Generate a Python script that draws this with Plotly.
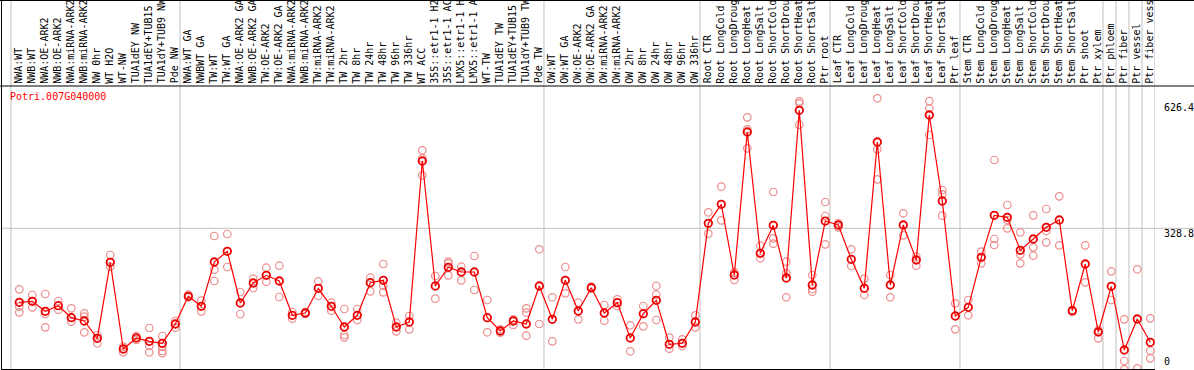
import plotly.graph_objects as go

gene = "Potri.007G040000"

labels = [
    "NWA:WT", "NWB:WT", "NWA:OE-ARK2", "NWB:OE-ARK2", "NWA:miRNA-ARK2", "NWB:miRNA-ARK2",
    "NW 0hr", "WT H2O", "WT-NW", "TUA1dEY NW", "TUA1dEY+TUB15", "TUA1dY+TUB9 NW", "Pde NW",
    "NWA:WT GA", "NWBWT GA", "TW:WT", "TW:WT GA", "NWA:OE-ARK2 GA", "NWB:OE-ARK2 GA",
    "TW:OE-ARK2", "TW:OE-ARK2 GA", "NWA:miRNA-ARK2", "NWB:miRNA-ARK2", "TW:miRNA-ARK2",
    "TW:miRNA-ARK2", "TW 2hr", "TW 8hr", "TW 24hr", "TW 48hr", "TW 96hr", "TW 336hr",
    "WT ACC", "35S::etr1-1 H2O", "35S::etr1-1 ACC", "LMX5::etr1-1 H2O", "LMX5::etr1-1 ACC",
    "WT-TW", "TUA1dEY TW", "TUA1dEY+TUB15 TW", "TUA1dY+TUB9 TW", "Pde TW",
    "OW:WT", "OW:WT GA", "OW:OE-ARK2", "OW:OE-ARK2 GA", "OW:miRNA-ARK2", "OW:miRNA-ARK2",
    "OW 2hr", "OW 8hr", "OW 24hr", "OW 48hr", "OW 96hr", "OW 336hr",
    "Root CTR", "Root LongCold", "Root LongDrought", "Root LongHeat", "Root LongSalt",
    "Root ShortCold", "Root ShortDrought", "Root ShortHeat", "Root ShortSalt", "Ptr root",
    "Leaf CTR", "Leaf LongCold", "Leaf LongDrought", "Leaf LongHeat", "Leaf LongSalt",
    "Leaf ShortCold", "Leaf ShortDrought", "Leaf ShortHeat", "Leaf ShortSalt", "Ptr leaf",
    "Stem CTR", "Stem LongCold", "Stem LongDrought", "Stem LongHeat", "Stem LongSalt",
    "Stem ShortCold", "Stem ShortDrought", "Stem ShortHeat", "Stem ShortSalt", "Ptr shoot",
    "Ptr xylem", "Ptr phloem", "Ptr fiber", "Ptr vessel", "Ptr fiber vessel",
]

group_sizes = [13, 28, 12, 10, 10, 11, 1, 1, 1, 1]

means = [
    159.3, 161.6, 138.7, 151.5, 124.1, 116.5, 76.9, 250.9, 52.4, 77.6, 70.0, 65.5, 109.7,
    173.1, 150.2, 251.6, 276.1, 157.7, 203.5, 221.1, 208.1, 129.6, 134.8, 191.4, 150.2,
    102.8, 129.6, 204.2, 209.7, 102.8, 114.2, 482.8, 196.6, 239.5, 228.7, 228.7, 124.1,
    93.6, 116.5, 109.7, 196.6,
    120.4, 209.7, 139.4, 192.8, 134.8, 158.4, 77.6, 133.2, 163.9, 63.2, 65.5, 114.2,
    340.2, 383.7, 221.8, 549.2, 271.5, 335.6, 215.0, 598.9, 198.9, 345.4,
    336.3, 257.8, 191.4, 526.3, 198.9, 336.3, 256.2, 588.1, 391.2, 128.0,
    147.9, 262.3, 358.5, 353.9, 278.4, 304.2, 331.0, 347.7, 140.1, 247.0, 91.3,
    196.0, 50.1, 121.1, 67.8,
]

replicates = [
    [189.1, 149.3, 136.4], [176.0, 147.9, 162.3], [178.3, 132.5, 102.1], [162.3, 142.4],
    [145.6, 114.9, 124.1], [134.1, 126.4, 90.7], [84.5, 65.5], [267.6, 240.8, 251.6],
    [57.7, 44.9], [82.2, 73.0], [100.5, 59.3, 44.9], [82.2, 57.7, 42.6, 47.8], [116.5, 101.2],
    [176.7, 170.8], [163.0, 138.7], [311.1, 234.0, 208.1], [315.7, 240.1], [182.9, 132.5],
    [213.4, 192.1], [238.5, 206.5], [243.1, 171.5], [137.1, 121.8], [137.1, 132.5],
    [207.4, 173.8], [158.4, 140.1], [144.0, 84.5, 79.2], [144.0, 118.8], [215.6, 184.5],
    [247.0, 197.3, 182.2], [112.6, 92.9], [128.0, 97.5], [507.3, 489.0, 450.1],
    [219.5, 167.6], [252.3, 248.6, 221.1], [240.8, 209.7], [265.3, 187.5], [164.6, 90.7],
    [97.5, 89.7], [120.4, 107.4], [145.6, 135.5, 82.9], [280.7, 109.7],
    [170.8, 70.0], [240.1, 179.9], [158.4, 120.4], [195.0, 190.5], [153.2, 117.2],
    [166.2, 150.9], [106.7, 47.2], [150.9, 104.4], [196.6, 176.7, 118.8], [78.3, 53.1],
    [74.6, 59.3], [129.6, 102.1],
    [365.4, 316.4], [424.0, 347.0], [228.0, 210.4], [582.8, 555.4, 511.9], [288.9, 260.1],
    [411.8, 305.8, 293.5], [252.3, 225.7, 170.8], [619.5, 614.9, 565.9],
    [221.8, 189.8, 183.6], [388.9, 356.9, 292.1],
    [340.9, 331.0], [280.7, 242.4], [213.4, 176.0], [626.4, 509.6, 440.9], [221.8, 170.8],
    [363.1, 312.7], [263.7, 243.1], [620.1, 603.4, 542.3], [416.4, 406.6, 357.6],
    [157.0, 97.5],
    [164.6, 129.6], [275.2, 248.6], [485.1, 304.2, 290.5], [382.1, 347.7, 328.7],
    [319.6, 269.2, 248.6], [358.5, 285.2, 266.0], [372.9, 322.5, 296.7], [402.0, 289.8],
    [141.7, 137.1], [289.8, 205.1], [95.9, 76.9],
    [230.3, 164.6], [120.4, 25.0, 6.0], [234.9, 8.2], [122.7, 48.5, 31.1],
]

axis_labels = ["626.4", "328.8", "0"]
grid_value = 328.8

# ---- layout geometry ----
W, H = 1194, 370
L, R, T, B = 2, 39, 0, 1
pw = W - L - R
ph = H - T - B
x_range = [-1.3308, 87.362]
y_range = [6.64, 851.4]
GRID = "rgb(192,192,192)"
FONT = "DejaVu Sans Mono"


def xp(px):
    return (px - L) / pw


def yp(py):
    return 1 - (py - T) / ph


x = list(range(len(labels)))
rx, ry = [], []
for i, reps in enumerate(replicates):
    for v in reps:
        rx.append(i)
        ry.append(v)

fig = go.Figure()
fig.add_trace(go.Scatter(
    x=rx, y=ry, mode="markers", hoverinfo="skip",
    marker=dict(symbol="circle-open", size=7.5, color="rgb(236,140,140)",
                line=dict(width=1.2)),
))
fig.add_trace(go.Scatter(
    x=x, y=means, mode="lines+markers",
    line=dict(color="rgb(255,0,0)", width=1.2),
    marker=dict(symbol="circle-open", size=7.5, color="rgb(235,0,0)",
                line=dict(width=1.8)),
))

shapes = []
cum = 0
bounds = [0]
for g in group_sizes:
    cum += g
    bounds.append(cum)
for b in bounds:
    shapes.append(dict(type="line", xref="x", yref="paper", x0=b - 0.64, x1=b - 0.64,
                       y0=0, y1=1, line=dict(color=GRID, width=1), layer="below"))
shapes.append(dict(type="line", xref="paper", yref="y", x0=0, x1=1 + R / pw,
                   y0=grid_value, y1=grid_value, line=dict(color=GRID, width=1),
                   layer="below"))
# header separator and top border
shapes.append(dict(type="line", xref="paper", yref="paper", x0=-L / pw, x1=1 + R / pw,
                   y0=yp(86), y1=yp(86), line=dict(color="black", width=1)))
shapes.append(dict(type="line", xref="paper", yref="paper", x0=-L / pw, x1=1 + R / pw,
                   y0=yp(0.5), y1=yp(0.5), line=dict(color="black", width=1)))

annotations = []
for i, lab in enumerate(labels):
    annotations.append(dict(
        x=i - 0.08, xref="x", y=yp(85.5), yref="paper", text=lab, showarrow=False,
        textangle=-90, xanchor="center", yanchor="bottom",
        font=dict(family=FONT, size=10, color="black"),
    ))
annotations.append(dict(
    x=xp(8), xref="paper", y=yp(96.5), yref="paper", text=gene, showarrow=False,
    xanchor="left", yanchor="middle", font=dict(family=FONT, size=10, color="red"),
))
for lab, py in zip(axis_labels, [107, 233, 361.5]):
    annotations.append(dict(
        x=xp(1162), xref="paper", y=yp(py), yref="paper", text=lab, showarrow=False,
        xanchor="left", yanchor="middle", font=dict(family=FONT, size=10, color="black"),
    ))

fig.update_layout(
    width=W, height=H, margin=dict(l=L, r=R, t=T, b=B, pad=0),
    paper_bgcolor="white", plot_bgcolor="white", showlegend=False,
    shapes=shapes, annotations=annotations,
    xaxis=dict(range=x_range, showgrid=False, zeroline=False, showticklabels=False,
               ticks="", showline=True, linecolor="black", linewidth=1, fixedrange=True),
    yaxis=dict(range=y_range, showgrid=False, zeroline=False, showticklabels=False,
               ticks="", showline=True, linecolor="black", linewidth=1, fixedrange=True),
)

fig.write_html("out.html", config={"displayModeBar": False},
               post_script="document.body.style.margin='0px';")
